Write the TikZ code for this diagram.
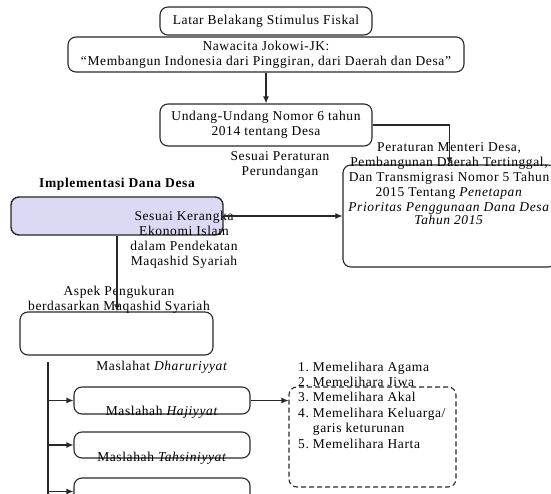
\documentclass[tikz,border=0pt]{standalone}
\usepackage{fontspec}
\setmainfont{Liberation Serif}[LetterSpace=4.5]
\usetikzlibrary{arrows.meta}
\definecolor{lav}{RGB}{220,217,245}
\definecolor{edge}{RGB}{40,40,40}
\tikzset{
  box/.style={draw=edge,line width=1.1pt,rounded corners=8pt,inner sep=0pt,align=center},
  lbl/.style={inner sep=0pt,align=center},
  arr/.style={draw=edge,line width=1.1pt,-{Latex[length=7pt,width=6pt]}},
  ln/.style={draw=edge,line width=1.1pt},
}
\begin{document}
\begin{tikzpicture}[x=1pt,y=-1pt,font=\fontsize{13.5}{15}\selectfont]
\useasboundingbox (0,0) rectangle (551,494);
% boxes
\node[box,minimum width=212pt,minimum height=28pt] (latar) at (266,21) {Latar Belakang Stimulus Fiskal};
\node[box,minimum width=396pt,minimum height=35pt] (nawa) at (266,54.5) {Nawacita Jokowi-JK:\\``Membangun Indonesia dari Pinggiran, dari Daerah dan Desa''};
\node[box,minimum width=212pt,minimum height=42pt] (uu) at (266,125) {Undang-Undang Nomor 6 tahun\\2014 tentang Desa};
\node[box,minimum width=213pt,minimum height=102pt] (perm) at (449.5,216) {};
\node[box,fill=lav,line width=1.4pt,minimum width=212pt,minimum height=38pt] (impl) at (117,216) {};
\node[box,minimum width=193pt,minimum height=43pt] (aspek) at (116.5,333.5) {};
\node[box,minimum width=176pt,minimum height=27pt] (m1) at (162,400.5) {};
\node[box,minimum width=176pt,minimum height=26pt] (m2) at (162,445) {};
\node[box,minimum width=176pt,minimum height=27pt] (m3) at (162,491.5) {};
\node[box,dashed,dash pattern=on 5pt off 3pt,minimum width=167pt,minimum height=100pt] (list) at (372.5,437) {};
% labels
\node[lbl,anchor=north] (permtxt) at (449,142) {Peraturan Menteri Desa,\\Pembangunan Daerah Tertinggal,\\Dan Transmigrasi Nomor 5 Tahun\\2015 Tentang \textit{Penetapan}\\\textit{Prioritas Penggunaan Dana Desa}\\[-1.5pt]\textit{Tahun 2015}};
\node[lbl] (sp) at (280,165) {Sesuai Peraturan\\Perundangan};
\node[lbl,font=\fontsize{13.5}{15}\selectfont\bfseries] (impltxt) at (117,184) {Implementasi Dana Desa};
\node[lbl] (sk) at (184,240) {Sesuai Kerangka\\Ekonomi Islam\\dalam Pendekatan\\Maqashid Syariah};
\node[lbl] (ap) at (119,300) {Aspek Pengukuran\\berdasarkan Maqashid Syariah};
\node[lbl] (d1) at (162,367) {Maslahat \textit{Dharuriyyat}};
\node[lbl] (d2) at (162,412) {Maslahah \textit{Hajiyyat}};
\node[lbl] (d3) at (162,458) {Maslahah \textit{Tahsiniyyat}};
\node[lbl,anchor=north west] (items) at (298,360) {\renewcommand{\arraystretch}{1.03}\begin{tabular}{@{}l@{\hspace{4pt}}l@{}}
1. & Memelihara Agama\\
2. & Memelihara Jiwa\\
3. & Memelihara Akal\\
4. & Memelihara Keluarga/\\
   & garis keturunan\\
5. & Memelihara Harta
\end{tabular}};
% connectors
\coordinate (t0) at (48,362);
\coordinate (t1) at (48,500);
\draw[arr] (nawa) -- (uu);
\draw[arr] (uu.east) -| (perm.north);
\draw[arr] (impl) -- (perm);
\draw[arr] (impl.south) -- (impl.south |- aspek.north);
\draw[ln] (t0) -- (t1);
\draw[arr] (t0 |- m1.west) -- (m1.west);
\draw[arr] (t0 |- m2.west) -- (m2.west);
\draw[arr] (t0 |- m3.west) -- (m3.west);
\draw[arr] (m1.east) -- (m1.east -| list.west);
\end{tikzpicture}
\end{document}
